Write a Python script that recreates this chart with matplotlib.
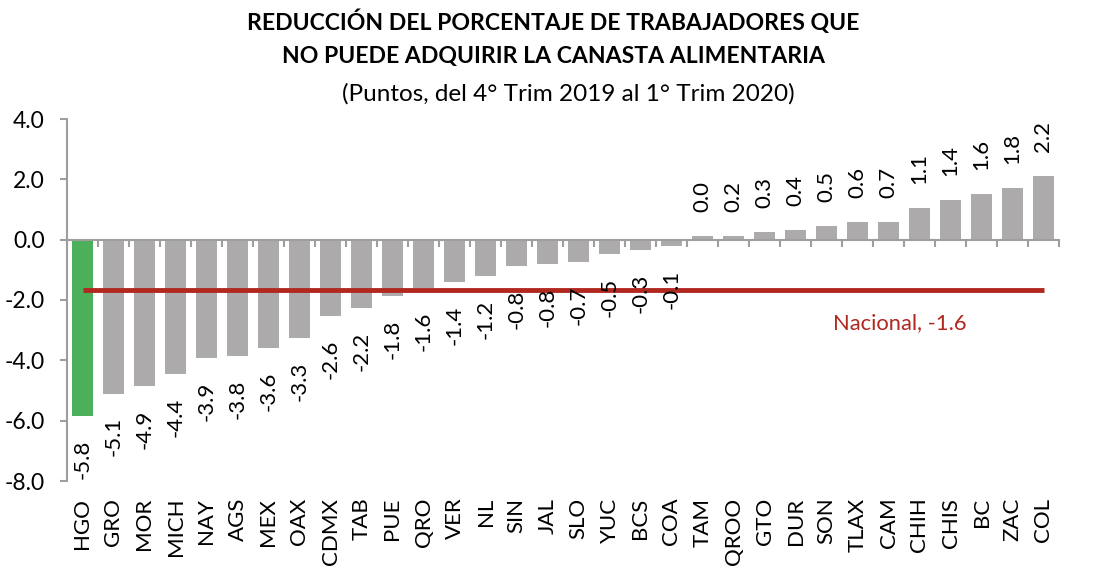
import matplotlib
matplotlib.use("Agg")
import matplotlib.pyplot as plt
import numpy as np

plt.rcParams['font.family'] = ['Lato', 'DejaVu Sans']

estados = ["HGO", "GRO", "MOR", "MICH", "NAY", "AGS", "MEX", "OAX", "CDMX", "TAB",
           "PUE", "QRO", "VER", "NL", "SIN", "JAL", "SLO", "YUC", "BCS", "COA",
           "TAM", "QROO", "GTO", "DUR", "SON", "TLAX", "CAM", "CHIH", "CHIS", "BC",
           "ZAC", "COL"]
valores = [-5.83, -5.10, -4.84, -4.45, -3.92, -3.85, -3.59, -3.26, -2.53, -2.27,
           -1.87, -1.61, -1.41, -1.21, -0.88, -0.82, -0.75, -0.49, -0.35, -0.22,
           0.12, 0.12, 0.26, 0.33, 0.46, 0.59, 0.59, 1.06, 1.32, 1.52,
           1.72, 2.11]
etiquetas = ["-5.8", "-5.1", "-4.9", "-4.4", "-3.9", "-3.8", "-3.6", "-3.3", "-2.6", "-2.2",
             "-1.8", "-1.6", "-1.4", "-1.2", "-0.8", "-0.8", "-0.7", "-0.5", "-0.3", "-0.1",
             "0.0", "0.2", "0.3", "0.4", "0.5", "0.6", "0.7", "1.1", "1.4", "1.6",
             "1.8", "2.2"]
nacional = -1.68
nacional_label = "Nacional, -1.6"
yticks = [4.0, 2.0, 0.0, -2.0, -4.0, -6.0, -8.0]

W, H = 1107, 576
fig = plt.figure(figsize=(W / 100, H / 100), dpi=100)
left, right, top, bottom = 67, 1059, 119, 481
ax = fig.add_axes([left / W, 1 - bottom / H, (right - left) / W, (bottom - top) / H])

gray = "#ADAAAB"
green = "#4CAF5A"
red = "#B0281F"
axis_col = "#9E9E9E"
fs = 16

x = np.arange(len(estados))
colors = [green if i == 0 else gray for i in range(len(estados))]
ax.bar(x, valores, width=0.7, color=colors, zorder=2)

ax.plot([x[0], x[-1]], [nacional, nacional], color=red, lw=3.5, zorder=3,
        solid_capstyle='butt')
ax.text(26.35, nacional - 1.1, nacional_label, color=red, fontsize=15.8,
        ha='center', va='center')

for xi, v, lab in zip(x, valores, etiquetas):
    if v < 0:
        ax.annotate(lab, xy=(xi, v), xytext=(0, -17), textcoords='offset points',
                    rotation=90, ha='center', va='top', fontsize=fs)
    else:
        ax.annotate(lab, xy=(xi, v), xytext=(0, 17), textcoords='offset points',
                    rotation=90, ha='center', va='bottom', fontsize=fs)

for xi, name in zip(x, estados):
    ax.annotate(name, xy=(xi, 0), xycoords=('data', 'axes fraction'),
                xytext=(0, -12), textcoords='offset points',
                rotation=90, ha='center', va='top', fontsize=fs)

ax.set_xlim(-0.5, len(estados) - 0.5)
ax.set_ylim(-8.0, 4.0)
ax.set_yticks(yticks)
ax.set_yticklabels([f"{t:.1f}" for t in yticks], fontsize=16.5)
ax.set_xticks(np.arange(-0.5, len(estados), 1.0))
ax.set_xticklabels([])
ax.spines['top'].set_visible(False)
ax.spines['right'].set_visible(False)
ax.spines['bottom'].set_position(('data', 0))
for s in ['left', 'bottom']:
    ax.spines[s].set_color(axis_col)
    ax.spines[s].set_linewidth(1.5)
ax.tick_params(axis='y', direction='out', length=5, width=1.5, color=axis_col, pad=11)
ax.tick_params(axis='x', direction='out', length=5, width=1.5, color=axis_col)

fig.text(0.5, 1 - 22 / H, "REDUCCIÓN DEL PORCENTAJE DE TRABAJADORES QUE",
         ha='center', va='center', fontsize=16.6, fontweight='bold')
fig.text(0.5, 1 - 57 / H, "NO PUEDE ADQUIRIR LA CANASTA ALIMENTARIA",
         ha='center', va='center', fontsize=16.6, fontweight='bold')
fig.text(0.513, 1 - 94 / H, "(Puntos, del 4° Trim 2019 al 1° Trim 2020)",
         ha='center', va='center', fontsize=17.5)

fig.savefig("out.png", dpi=100)
